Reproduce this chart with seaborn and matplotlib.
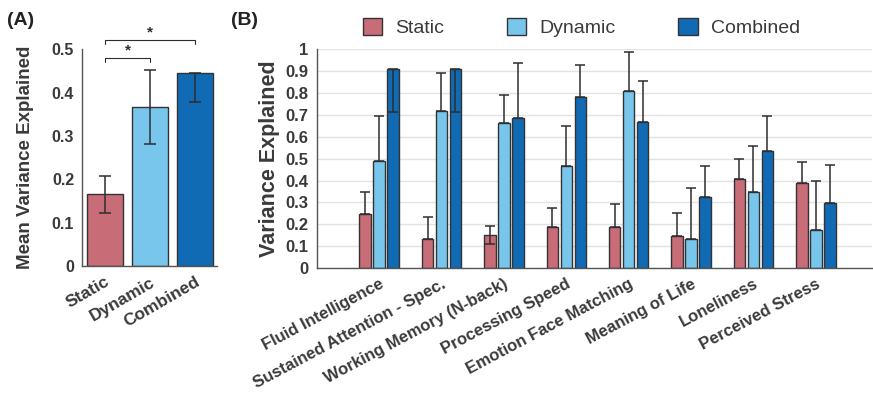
import numpy as np
import pandas as pd
import matplotlib as mpl
mpl.use('Agg')
import matplotlib.pyplot as plt
import seaborn as sns

# model names and colours
models = ['Static', 'Dynamic', 'Combined']
colors = ['#C86C78', '#78C6EC', '#106AB4']

# panel A: mean over measures, with whisker ends
mean_val = [0.165, 0.366, 0.445]
mean_lo = [0.1225, 0.281, 0.378]
mean_hi = [0.208, 0.452, 0.445]

# panel B: per-measure values
measures = ['Fluid Intelligence', 'Sustained Attention - Spec.', 'Working Memory (N-back)',
            'Processing Speed', 'Emotion Face Matching', 'Meaning of Life',
            'Loneliness', 'Perceived Stress']
static_val = [0.245, 0.133, 0.150, 0.186, 0.189, 0.146, 0.406, 0.389]
static_hi = [0.346, 0.235, 0.193, 0.274, 0.291, 0.250, 0.500, 0.486]
static_lo = [0.245, 0.133, 0.108, 0.186, 0.189, 0.146, 0.406, 0.389]
dynamic_val = [0.491, 0.718, 0.664, 0.465, 0.809, 0.134, 0.346, 0.175]
dynamic_hi = [0.696, 0.893, 0.792, 0.649, 0.988, 0.367, 0.558, 0.399]
dynamic_lo = [0.491, 0.718, 0.664, 0.465, 0.809, 0.134, 0.346, 0.175]
combined_val = [0.909, 0.909, 0.686, 0.780, 0.668, 0.323, 0.534, 0.296]
combined_hi = [0.909, 0.909, 0.936, 0.930, 0.857, 0.466, 0.694, 0.472]
combined_lo = [0.712, 0.712, 0.686, 0.780, 0.668, 0.323, 0.534, 0.296]

sns.set_style('white')
plt.rcParams['font.family'] = ['Liberation Sans', 'DejaVu Sans']

txt = '#3a3a3a'
spine = '#555555'
ecol = '#2e2e2e'

fig = plt.figure(figsize=(8.73, 4.0), dpi=100)
axA = fig.add_axes([0.0945, 0.335, 0.1546, 0.5418])
axB = fig.add_axes([0.3628, 0.33, 0.636, 0.5468])

# ---- panel A
sns.barplot(x=models, y=mean_val, hue=models, palette=colors, legend=False, saturation=1,
            width=0.8, errorbar=None, edgecolor='#333333', linewidth=1, ax=axA)
xs = np.arange(3)
v = np.array(mean_val)
axA.errorbar(xs, v, yerr=[v - np.array(mean_lo), np.array(mean_hi) - v], fmt='none',
             ecolor=ecol, elinewidth=1.1, capsize=4, capthick=1.1, zorder=5)
axA.set_xlim(-0.5, 2.5)
axA.set_ylim(0, 0.5)
axA.set_yticks(np.arange(0, 0.51, 0.1))
axA.set_yticklabels(['0', '0.1', '0.2', '0.3', '0.4', '0.5'])
axA.set_ylabel('Mean Variance Explained', fontsize=13.5, fontweight='bold', color=txt, labelpad=13)
axA.set_xticks(xs)
axA.set_xticklabels(models, rotation=30, ha='right', rotation_mode='anchor',
                    fontsize=12.5, fontweight='bold', color=txt)

# significance brackets
def bracket(ax, x1, x2, y, h=0.008):
    ax.plot([x1, x1, x2, x2], [y - h, y, y, y - h], color=ecol, lw=0.8, clip_on=False)
    ax.text((x1 + x2) / 2, y + 0.002, '*', ha='center', va='bottom', fontsize=11,
            fontweight='bold', color=ecol)

bracket(axA, 0, 1, 0.479)
bracket(axA, 0, 2, 0.521)

# ---- panel B
df = pd.DataFrame({
    'measure': measures * 3,
    'value': static_val + dynamic_val + combined_val,
    'model': [m for m in models for _ in measures],
})
axB.yaxis.grid(True, color='#e3e3e3', lw=1)
axB.set_axisbelow(True)
sns.barplot(data=df, x='measure', y='value', hue='model', palette=colors, saturation=1,
            width=0.672, gap=0.18, errorbar=None, edgecolor='#333333', linewidth=1, ax=axB)
his = [static_hi, dynamic_hi, combined_hi]
los = [static_lo, dynamic_lo, combined_lo]
vals = [static_val, dynamic_val, combined_val]
for cont, val, lo, hi in zip(axB.containers, vals, los, his):
    bx = [p.get_x() + p.get_width() / 2 for p in cont]
    val = np.array(val)
    axB.errorbar(bx, val, yerr=[val - np.array(lo), np.array(hi) - val], fmt='none',
                 ecolor=ecol, elinewidth=1.1, capsize=3.5, capthick=1.1, zorder=5)

handles, labels = axB.get_legend_handles_labels()
axB.get_legend().remove()
fig.legend(handles, labels, loc='center', bbox_to_anchor=(0.666, 0.932), ncol=3,
           frameon=False, fontsize=14, handlelength=1.0, handleheight=1.0,
           handletextpad=0.7, columnspacing=3.2, labelcolor=txt)

axB.set_xlim(-1, 7.9)
axB.set_ylim(0, 1)
axB.set_yticks(np.arange(0, 1.01, 0.1))
axB.set_yticklabels(['0', '0.1', '0.2', '0.3', '0.4', '0.5', '0.6', '0.7', '0.8', '0.9', '1'])
axB.set_ylabel('Variance Explained', fontsize=15.5, fontweight='bold', color=txt, labelpad=4)
axB.set_xlabel('')
axB.set_xticks(range(len(measures)))
axB.set_xticklabels(measures, rotation=28, ha='right', rotation_mode='anchor',
                    fontsize=12, fontweight='bold', color=txt)

for ax in (axA, axB):
    sns.despine(ax=ax)
    for s in ('left', 'bottom'):
        ax.spines[s].set_color(spine)
        ax.spines[s].set_linewidth(1)
    ax.tick_params(axis='both', which='both', length=3, width=0.8, color=spine, pad=3)
    ax.tick_params(axis='y', labelcolor=txt)
    for lab in ax.get_yticklabels():
        lab.set_fontweight('bold')
axA.tick_params(axis='y', labelsize=11.5)
axB.tick_params(axis='y', labelsize=12)

fig.text(0.008, 0.948, '(A)', fontsize=14, fontweight='bold', color='#222222', va='center')
fig.text(0.265, 0.948, '(B)', fontsize=14, fontweight='bold', color='#222222', va='center')

fig.savefig('out.png', dpi=100)
